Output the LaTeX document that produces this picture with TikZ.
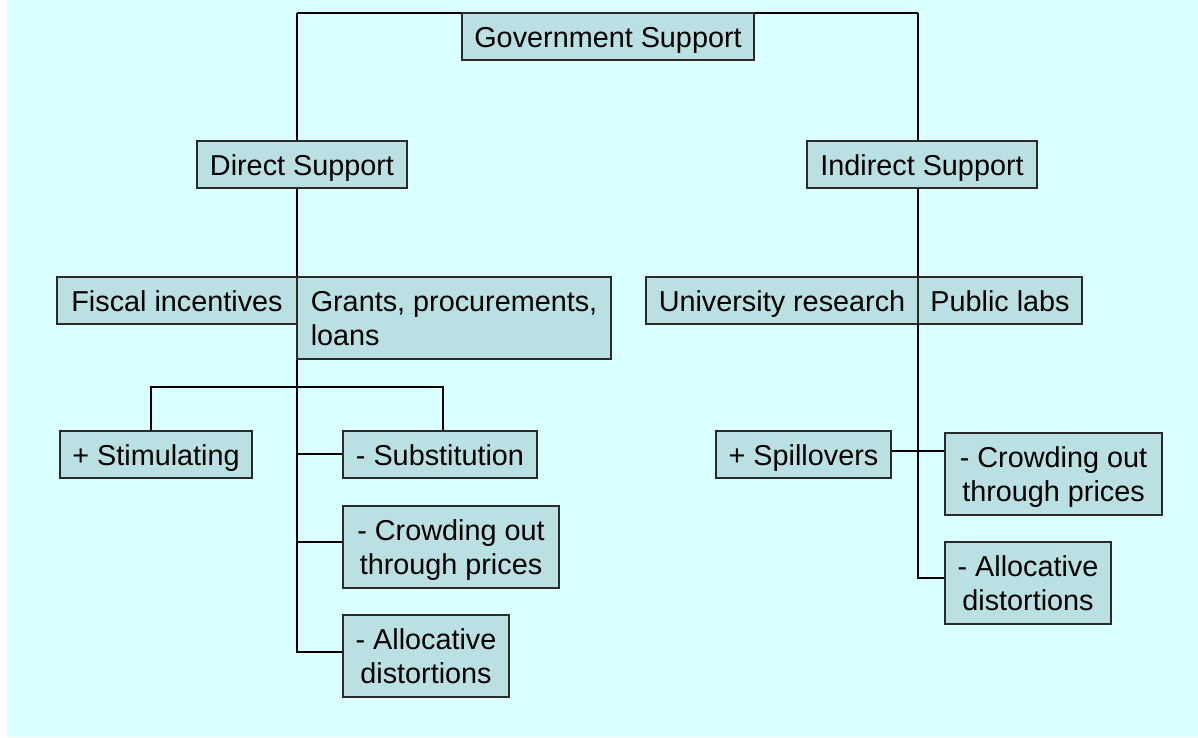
\documentclass[tikz,border=0pt]{standalone}
\usepackage{fontspec}
\setmainfont{Liberation Sans}
\pgfdeclarelayer{back}
\pgfdeclarelayer{lines}
\pgfsetlayers{back,lines,main}
\definecolor{bgcyan}{HTML}{D9FFFF}
\definecolor{boxfill}{HTML}{BBE0E3}
\definecolor{boxline}{HTML}{2A2A2A}
\tikzset{
  box/.style={draw=boxline, fill=boxfill, line width=1.4pt, inner sep=0pt,
    font=\fontsize{28.8}{34.5}\selectfont, text height=21pt, text depth=0pt},
  twoline/.style={box, align=center, text height=55.5pt, text depth=0pt},
  twoleft/.style={box, align=left, text height=55.5pt, text depth=0pt},
  conn/.style={draw=black, line width=1.4pt}
}
\begin{document}
\begin{tikzpicture}[x=1pt,y=1pt]
\useasboundingbox (0,0) rectangle (1198,-737);
% nodes
\node[box, minimum width=292, minimum height=47] (gov) at (608,-36.5) {Government Support};
\node[box, minimum width=210, minimum height=47] (dir) at (302,-164.5) {Direct Support};
\node[box, minimum width=230, minimum height=47] (ind) at (922,-164.5) {Indirect Support};
\node[box, minimum width=240, minimum height=47] (fis) at (177,-300.5) {Fiscal incentives};
\node[twoleft, minimum width=314, minimum height=82] (gra) at (454,-318) {Grants, procurements,\\loans};
\node[box, minimum width=272, minimum height=47] (uni) at (782,-300.5) {University research};
\node[box, minimum width=164, minimum height=47] (pub) at (1000,-300.5) {Public labs};
\node[box, minimum width=192, minimum height=47] (sti) at (156,-454.5) {+ Stimulating};
\node[box, minimum width=194, minimum height=47] (sub) at (440,-454.5) {- Substitution};
\node[twoline, minimum width=216, minimum height=82] (cro) at (451,-547) {- Crowding out\\through prices};
\node[twoline, minimum width=166, minimum height=82] (all) at (426,-656) {- Allocative\\distortions};
\node[box, minimum width=175, minimum height=47] (spi) at (803.5,-454.5) {+ Spillovers};
\node[twoline, minimum width=217, minimum height=82] (cro2) at (1053.5,-474) {- Crowding out\\through prices};
\node[twoline, minimum width=166, minimum height=82] (all2) at (1028,-583) {- Allocative\\distortions};
% background
\begin{pgfonlayer}{back}
\fill[bgcyan] (7,0) rectangle (1198,-737);
\end{pgfonlayer}
% connectors
\begin{pgfonlayer}{lines}
\coordinate (tl) at (297,-13);
\coordinate (tr) at (918,-13);
\draw[conn] (tl) -- (tr);
\draw[conn] (tl) -- (tl |- dir.north);
\draw[conn] (tr) -- (tr |- ind.north);
% left trunk
\coordinate (la) at (297,-652);
\draw[conn] (tl |- dir.south) -- (la) -- (la -| all.west);
\coordinate (ls) at (297,-454);
\draw[conn] (ls) -- (ls -| sub.west);
\coordinate (lc) at (297,-542);
\draw[conn] (lc) -- (lc -| cro.west);
\coordinate (bl) at (151,-387);
\coordinate (br) at (443,-387);
\draw[conn] (bl |- sti.north) -- (bl) -- (br) -- (br |- sub.north);
% right trunk
\coordinate (ra) at (918,-578);
\draw[conn] (tr |- ind.south) -- (ra) -- (ra -| all2.west);
\coordinate (rs) at (918,-451);
\draw[conn] (rs -| spi.east) -- (rs -| cro2.west);
\end{pgfonlayer}
\end{tikzpicture}
\end{document}
